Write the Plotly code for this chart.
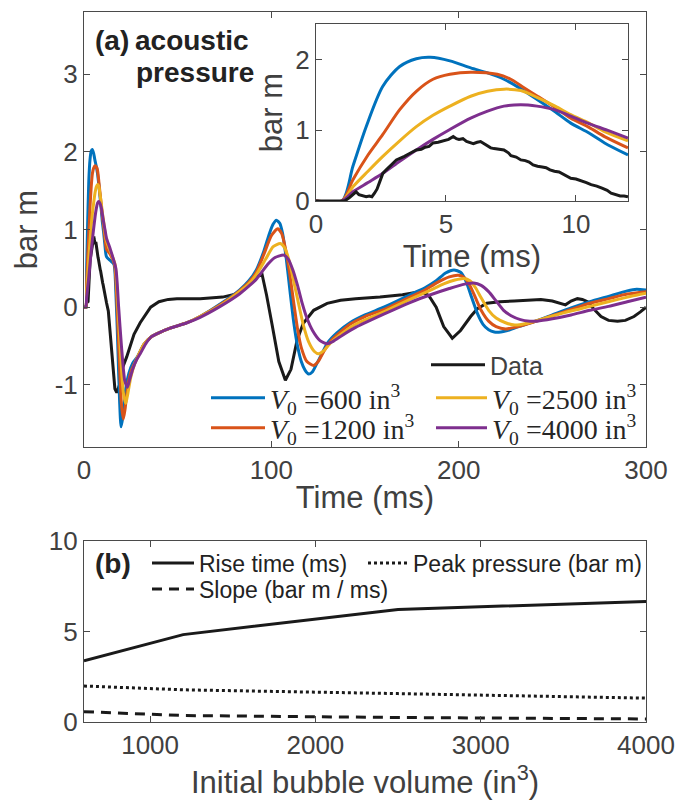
import plotly.graph_objects as go

# ---------------- data: inset (0-12 ms) ----------------
data_t_inset = [0, 1.1, 1.3, 1.45, 1.54, 1.65, 1.75, 1.85, 1.93, 2.05, 2.15, 2.25, 2.35, 2.45, 2.57, 2.7, 2.8, 2.95, 3.09,
                3.25, 3.4, 3.6, 3.86, 4.05, 4.2, 4.35, 4.5, 4.7, 4.9, 5.1, 5.28, 5.4, 5.5, 5.65, 5.79, 5.95, 6.05, 6.2,
                6.33, 6.5, 6.72, 6.85, 7.0, 7.23, 7.4, 7.5, 7.7, 7.88, 8.05, 8.2, 8.35, 8.52, 8.7, 8.85, 9.0, 9.17,
                9.35, 9.5, 9.65, 9.8, 10.0, 10.2, 10.4, 10.58, 10.8, 11.0, 11.2, 11.35, 11.5, 11.7, 11.85, 12.0]
data_v_inset = [0, 0, 0.05, 0.1, 0.13, 0.09, 0.08, 0.06, 0.06, 0.07, 0.06, 0.11, 0.17, 0.27, 0.39, 0.44, 0.48, 0.53, 0.58,
                0.6, 0.63, 0.67, 0.72, 0.73, 0.76, 0.77, 0.82, 0.83, 0.85, 0.87, 0.91, 0.88, 0.87, 0.88, 0.84, 0.82, 0.81, 0.83,
                0.84, 0.8, 0.75, 0.74, 0.73, 0.72, 0.68, 0.64, 0.62, 0.58, 0.57, 0.55, 0.51, 0.49, 0.48, 0.47, 0.44, 0.42,
                0.41, 0.38, 0.35, 0.32, 0.31, 0.29, 0.26, 0.23, 0.21, 0.18, 0.15, 0.11, 0.09, 0.07, 0.07, 0.06]

v600_t_inset = [0, 1.0, 1.42, 1.93, 2.57, 3.22, 3.86, 4.4, 5.15, 5.95, 6.6, 7.23, 7.9, 8.52, 9.2, 9.8, 10.5, 11.1, 12]
v600_v_inset = [0, 0, 0.49, 1.05, 1.62, 1.90, 2.01, 2.03, 1.98, 1.88, 1.81, 1.72, 1.58, 1.43, 1.26, 1.10, 0.96, 0.82, 0.65]

v1200_t_inset = [0, 1.0, 1.42, 2.0, 2.57, 3.22, 3.86, 4.5, 5.15, 5.95, 6.97, 7.49, 8.0, 8.52, 9.2, 9.8, 10.5, 11.1, 12]
v1200_v_inset = [0, 0, 0.30, 0.65, 0.94, 1.29, 1.55, 1.72, 1.79, 1.82, 1.79, 1.72, 1.60, 1.48, 1.32, 1.17, 1.04, 0.91, 0.75]

v2500_t_inset = [0, 1.0, 1.42, 2.0, 2.57, 3.22, 3.86, 4.5, 5.15, 5.95, 6.6, 7.23, 7.88, 8.52, 9.2, 9.8, 10.5, 11.1, 12]
v2500_v_inset = [0, 0, 0.20, 0.42, 0.63, 0.85, 1.05, 1.21, 1.34, 1.48, 1.55, 1.58, 1.56, 1.46, 1.34, 1.22, 1.10, 0.98, 0.85]

v4000_t_inset = [0, 1.0, 1.42, 2.0, 2.57, 3.22, 3.86, 4.5, 5.15, 5.95, 6.6, 7.23, 7.88, 8.5, 9.17, 9.8, 10.45, 11.2, 12]
v4000_v_inset = [0, 0, 0.13, 0.26, 0.39, 0.56, 0.72, 0.87, 1.01, 1.17, 1.27, 1.34, 1.36, 1.34, 1.29, 1.20, 1.10, 1.00, 0.89]

# ---------------- data: main panel beyond 12 ms ----------------
data_t_tail = [13, 14.5, 16.5, 17.5, 19, 20.1, 22.8, 26.7, 30, 35.6, 40, 45, 49.6, 62, 74, 83, 88, 92.3, 95, 97.5,
               100.3, 104, 107.5, 110.5, 113.7, 117, 122.6, 129.8, 137, 145, 158, 170, 179.7, 184, 188, 192, 196.6,
               201, 206.4, 210, 215, 222, 229.6, 236, 243.9, 250, 257, 260, 263.4, 266, 268.8, 272, 276, 280, 284.8,
               289, 293.6, 297, 300]
data_v_tail = [-0.05, -0.5, -1.05, -1.1, -1.0, -0.81, -0.64, -0.35, -0.2, 0.0, 0.07, 0.1, 0.11, 0.11, 0.13, 0.18, 0.3,
               0.39, 0.43, 0.15, -0.21, -0.7, -0.94, -0.8, -0.43, -0.21, -0.04, 0.05, 0.09, 0.11, 0.13, 0.16, 0.2,
               0.15, 0.0, -0.25, -0.40, -0.3, -0.12, -0.02, 0.05, 0.07, 0.08, 0.09, 0.1, 0.08, 0.03, 0.08, 0.11, 0.1,
               0.07, -0.02, -0.12, -0.17, -0.18, -0.17, -0.12, -0.06, 0.0]

v600_t_tail = [14, 16, 17, 18, 19, 19.8, 20.8, 22, 24, 26, 28.5, 32, 36, 40, 46, 55, 62, 72.7, 83, 88, 92, 96, 99,
               101, 102.7, 104.5, 106, 108, 110, 112, 114, 116, 118, 120, 122, 124, 127, 130, 135, 142, 150, 160,
               174, 182, 188, 193, 197.5, 201, 204, 207, 210, 213, 216, 219, 222.5, 226, 232, 240, 250, 260, 270,
               280, 290, 295, 300]
v600_v_tail = [0.6, 0.55, 0.2, -0.45, -1.2, -1.54, -1.4, -1.1, -0.85, -0.72, -0.64, -0.48, -0.38, -0.33, -0.27,
               -0.2, -0.12, 0.04, 0.22, 0.34, 0.48, 0.72, 0.95, 1.07, 1.12, 1.08, 0.95, 0.62, 0.2, -0.2, -0.5, -0.7,
               -0.81, -0.86, -0.83, -0.74, -0.6, -0.46, -0.33, -0.2, -0.1, 0.0, 0.16, 0.25, 0.34, 0.44, 0.48, 0.45,
               0.33, 0.12, -0.08, -0.22, -0.29, -0.32, -0.32, -0.3, -0.25, -0.19, -0.1, -0.01, 0.07, 0.14, 0.21,
               0.23, 0.22]

v1200_t_tail = [14, 16.3, 17.5, 18.7, 20, 21, 22, 23.5, 25.5, 28.5, 32, 36, 40, 46, 55, 62, 72.7, 83, 88, 92, 96,
                100, 103.4, 105.5, 108, 110, 112, 114, 116, 119, 122.6, 125, 128, 132, 142, 150, 160, 174, 182, 188,
                195, 200, 203, 206, 209, 212, 216, 220, 225, 230, 240, 250, 260, 270, 280, 290, 300]
v1200_v_tail = [0.68, 0.55, 0.1, -0.6, -1.25, -1.44, -1.3, -1.0, -0.8, -0.65, -0.48, -0.38, -0.33, -0.27, -0.2,
                -0.12, 0.03, 0.21, 0.32, 0.45, 0.68, 0.92, 1.01, 0.95, 0.7, 0.4, 0.05, -0.28, -0.52, -0.7, -0.75,
                -0.7, -0.57, -0.43, -0.22, -0.12, -0.03, 0.13, 0.22, 0.31, 0.39, 0.41, 0.38, 0.28, 0.12, -0.04,
                -0.18, -0.25, -0.28, -0.26, -0.19, -0.11, -0.03, 0.05, 0.11, 0.17, 0.2]

v2500_t_tail = [14, 16.6, 18, 19.5, 21, 22.3, 23.5, 25, 27, 29, 32, 36, 40, 46, 55, 62, 72.7, 83, 88, 92, 97, 101,
                104.8, 107, 109.5, 112, 114.5, 117, 120, 123, 125.3, 128, 132, 137, 145, 160, 174, 185, 192, 198,
                202.8, 206, 209, 212, 216, 220, 225, 230, 236, 245, 255, 265, 275, 285, 292, 300]
v2500_v_tail = [0.72, 0.55, 0.05, -0.6, -1.1, -1.24, -1.1, -0.9, -0.73, -0.62, -0.48, -0.38, -0.33, -0.27, -0.2,
                -0.12, 0.02, 0.2, 0.3, 0.42, 0.62, 0.78, 0.82, 0.77, 0.6, 0.33, 0.05, -0.22, -0.45, -0.57, -0.6,
                -0.56, -0.45, -0.35, -0.22, -0.06, 0.1, 0.22, 0.3, 0.35, 0.37, 0.34, 0.25, 0.12, -0.04, -0.14, -0.2,
                -0.23, -0.21, -0.15, -0.08, -0.02, 0.04, 0.1, 0.14, 0.18]

v4000_t_tail = [14, 17, 18.5, 20, 21.8, 23.2, 24.5, 26, 28, 30, 33, 36, 40, 46, 55, 62, 72.7, 83, 88, 92, 98, 102,
                106.6, 109, 111.5, 114, 116.5, 119, 122, 126, 129.8, 133, 138, 145, 160, 174, 185, 195, 202, 208,
                212, 216, 220, 224, 228, 233, 238, 242, 250, 260, 270, 280, 290, 300]
v4000_v_tail = [0.75, 0.5, 0.0, -0.5, -0.95, -1.03, -0.92, -0.8, -0.68, -0.6, -0.47, -0.38, -0.33, -0.27, -0.2,
                -0.13, 0.01, 0.17, 0.27, 0.36, 0.55, 0.64, 0.67, 0.62, 0.48, 0.28, 0.05, -0.14, -0.3, -0.43, -0.47,
                -0.44, -0.36, -0.26, -0.09, 0.06, 0.16, 0.24, 0.29, 0.31, 0.28, 0.2, 0.08, -0.04, -0.11, -0.16, -0.18,
                -0.18, -0.15, -0.1, -0.04, 0.01, 0.07, 0.13]

# ---------------- data: panel (b) ----------------
bubble_volume = [600, 1200, 2500, 4000]
rise_time = [3.38, 4.83, 6.22, 6.66]
peak_pressure = [1.99, 1.78, 1.57, 1.32]
slope = [0.57, 0.36, 0.25, 0.17]

series_names = ["<i>V</i><sub>0</sub> =600 in<sup>3</sup>", "<i>V</i><sub>0</sub> =1200 in<sup>3</sup>",
                "<i>V</i><sub>0</sub> =2500 in<sup>3</sup>", "<i>V</i><sub>0</sub> =4000 in<sup>3</sup>"]
colors = ["#0072BD", "#D95319", "#EDB120", "#7E2F8E"]

y_ticks_main = [-1, 0, 1, 2, 3]
y_ticktext_main = ["-1", "0", "1", "2", "3"]

SANS = "Liberation Sans, Arial, Helvetica, sans-serif"
SERIF = "Liberation Serif, Times New Roman, serif"
AX = "#4a4a4a"
TICK_FONT = dict(family=SANS, size=26, color="#404040")
TITLE_FONT = dict(family=SANS, size=31, color="#404040")
LEG_SERIF = dict(family=SERIF, size=28, color="#262626")
LEG_A = dict(family=SANS, size=25, color="#404040")
LEG_B = dict(family=SANS, size=23, color="#222222")

fig = go.Figure()

# main panel
fig.add_trace(go.Scatter(x=data_t_inset + data_t_tail, y=data_v_inset + data_v_tail, mode="lines",
                         line=dict(color="#1a1a1a", width=3), name="Data", legend="legend",
                         xaxis="x", yaxis="y"))
model_inset = [(v600_t_inset, v600_v_inset), (v1200_t_inset, v1200_v_inset),
               (v2500_t_inset, v2500_v_inset), (v4000_t_inset, v4000_v_inset)]
model_tail = [(v600_t_tail, v600_v_tail), (v1200_t_tail, v1200_v_tail),
              (v2500_t_tail, v2500_v_tail), (v4000_t_tail, v4000_v_tail)]
model_legends = ["legend2", "legend3", "legend4", "legend5"]
for i in range(4):
    fig.add_trace(go.Scatter(x=model_inset[i][0] + model_tail[i][0], y=model_inset[i][1] + model_tail[i][1],
                             mode="lines", line=dict(color=colors[i], width=3, shape="spline", smoothing=0.6),
                             name=series_names[i], legend=model_legends[i], xaxis="x", yaxis="y"))

# inset
for i in range(4):
    fig.add_trace(go.Scatter(x=model_inset[i][0], y=model_inset[i][1], mode="lines",
                             line=dict(color=colors[i], width=3, shape="spline", smoothing=0.8), showlegend=False,
                             xaxis="x2", yaxis="y2"))
fig.add_trace(go.Scatter(x=data_t_inset, y=data_v_inset, mode="lines", line=dict(color="#1a1a1a", width=3),
                         showlegend=False, xaxis="x2", yaxis="y2"))

# panel (b)
fig.add_trace(go.Scatter(x=bubble_volume, y=rise_time, mode="lines", name="Rise time (ms)",
                         line=dict(color="#1a1a1a", width=3, dash="solid"), legend="legend6",
                         xaxis="x3", yaxis="y3"))
fig.add_trace(go.Scatter(x=bubble_volume, y=slope, mode="lines", name="Slope (bar m / ms)",
                         line=dict(color="#1a1a1a", width=3, dash="10px,7px"), legend="legend7",
                         xaxis="x3", yaxis="y3"))
fig.add_trace(go.Scatter(x=bubble_volume, y=peak_pressure, mode="lines", name="Peak pressure (bar m)",
                         line=dict(color="#1a1a1a", width=3, dash="dot"), legend="legend8",
                         xaxis="x3", yaxis="y3"))

def ax(**kw):
    d = dict(showline=True, linecolor=AX, linewidth=1, mirror="ticks", ticks="inside", ticklen=6,
             tickcolor=AX, showgrid=False, zeroline=False, tickfont=TICK_FONT, automargin=False)
    d.update(kw)
    return d

def leg(sample_left_px, center_px, font, itemwidth):
    return dict(x=(sample_left_px - 6) / 680, y=1 - center_px / 812, xanchor="left", yanchor="middle",
                bgcolor="rgba(0,0,0,0)", borderwidth=0, font=font, itemwidth=itemwidth,
                tracegroupgap=0, traceorder="normal")

fig.update_layout(
    width=680, height=812, margin=dict(l=0, r=0, t=0, b=0),
    paper_bgcolor="white", plot_bgcolor="white", template="none",
    xaxis=ax(domain=[0.1235, 0.95], range=[0, 300], tickvals=[0, 100, 200, 300], anchor="y",
             title=dict(text="Time (ms)", font=TITLE_FONT, standoff=2)),
    yaxis=ax(domain=[0.4495, 0.9852], range=[-1.8, 3.8], tickvals=y_ticks_main, ticktext=y_ticktext_main,
             anchor="x", title=dict(text="bar m", font=TITLE_FONT, standoff=7)),
    xaxis2=ax(domain=[0.4647, 0.9235], range=[0, 12], tickvals=[0, 5, 10], anchor="y2",
              title=dict(text="Time (ms)", font=TITLE_FONT, standoff=0)),
    yaxis2=ax(domain=[0.7525, 0.9704], range=[0, 2.5], tickvals=[0, 1, 2], anchor="x2",
              title=dict(text="bar m", font=TITLE_FONT, standoff=3)),
    xaxis3=ax(domain=[0.1235, 0.95], range=[600, 4000], tickvals=[1000, 2000, 3000, 4000], anchor="y3",
              title=dict(text="Initial bubble volume (in<sup>3</sup>)", font=TITLE_FONT, standoff=12)),
    yaxis3=ax(domain=[0.1108, 0.3337], range=[0, 10], tickvals=[0, 5, 10], anchor="x3"),
    legend=leg(432, 365, LEG_A, 54),
    legend2=leg(212, 398, LEG_SERIF, 54),
    legend3=leg(212, 428, LEG_SERIF, 54),
    legend4=leg(437, 398, LEG_SERIF, 51),
    legend5=leg(437, 428, LEG_SERIF, 51),
    legend6=leg(153, 563, LEG_B, 42),
    legend7=leg(153, 589, LEG_B, 42),
    legend8=leg(369, 563, LEG_B, 40),
    annotations=[
        dict(text="<b>(a)</b>", x=93 / 680, y=1 - 40 / 812, xref="paper", yref="paper", xanchor="left",
             yanchor="middle", showarrow=False, font=dict(family=SANS, size=28, color="#222222")),
        dict(text="<b>acoustic</b>", x=133 / 680, y=1 - 40 / 812, xref="paper", yref="paper", xanchor="left",
             yanchor="middle", showarrow=False, font=dict(family=SANS, size=28, color="#222222")),
        dict(text="<b>pressure</b>", x=134 / 680, y=1 - 72 / 812, xref="paper", yref="paper", xanchor="left",
             yanchor="middle", showarrow=False, font=dict(family=SANS, size=28, color="#222222")),
        dict(text="<b>(b)</b>", x=93 / 680, y=1 - 563 / 812, xref="paper", yref="paper", xanchor="left",
             yanchor="middle", showarrow=False, font=dict(family=SANS, size=28, color="#222222")),
    ],
)

fig.write_html("out.html")
